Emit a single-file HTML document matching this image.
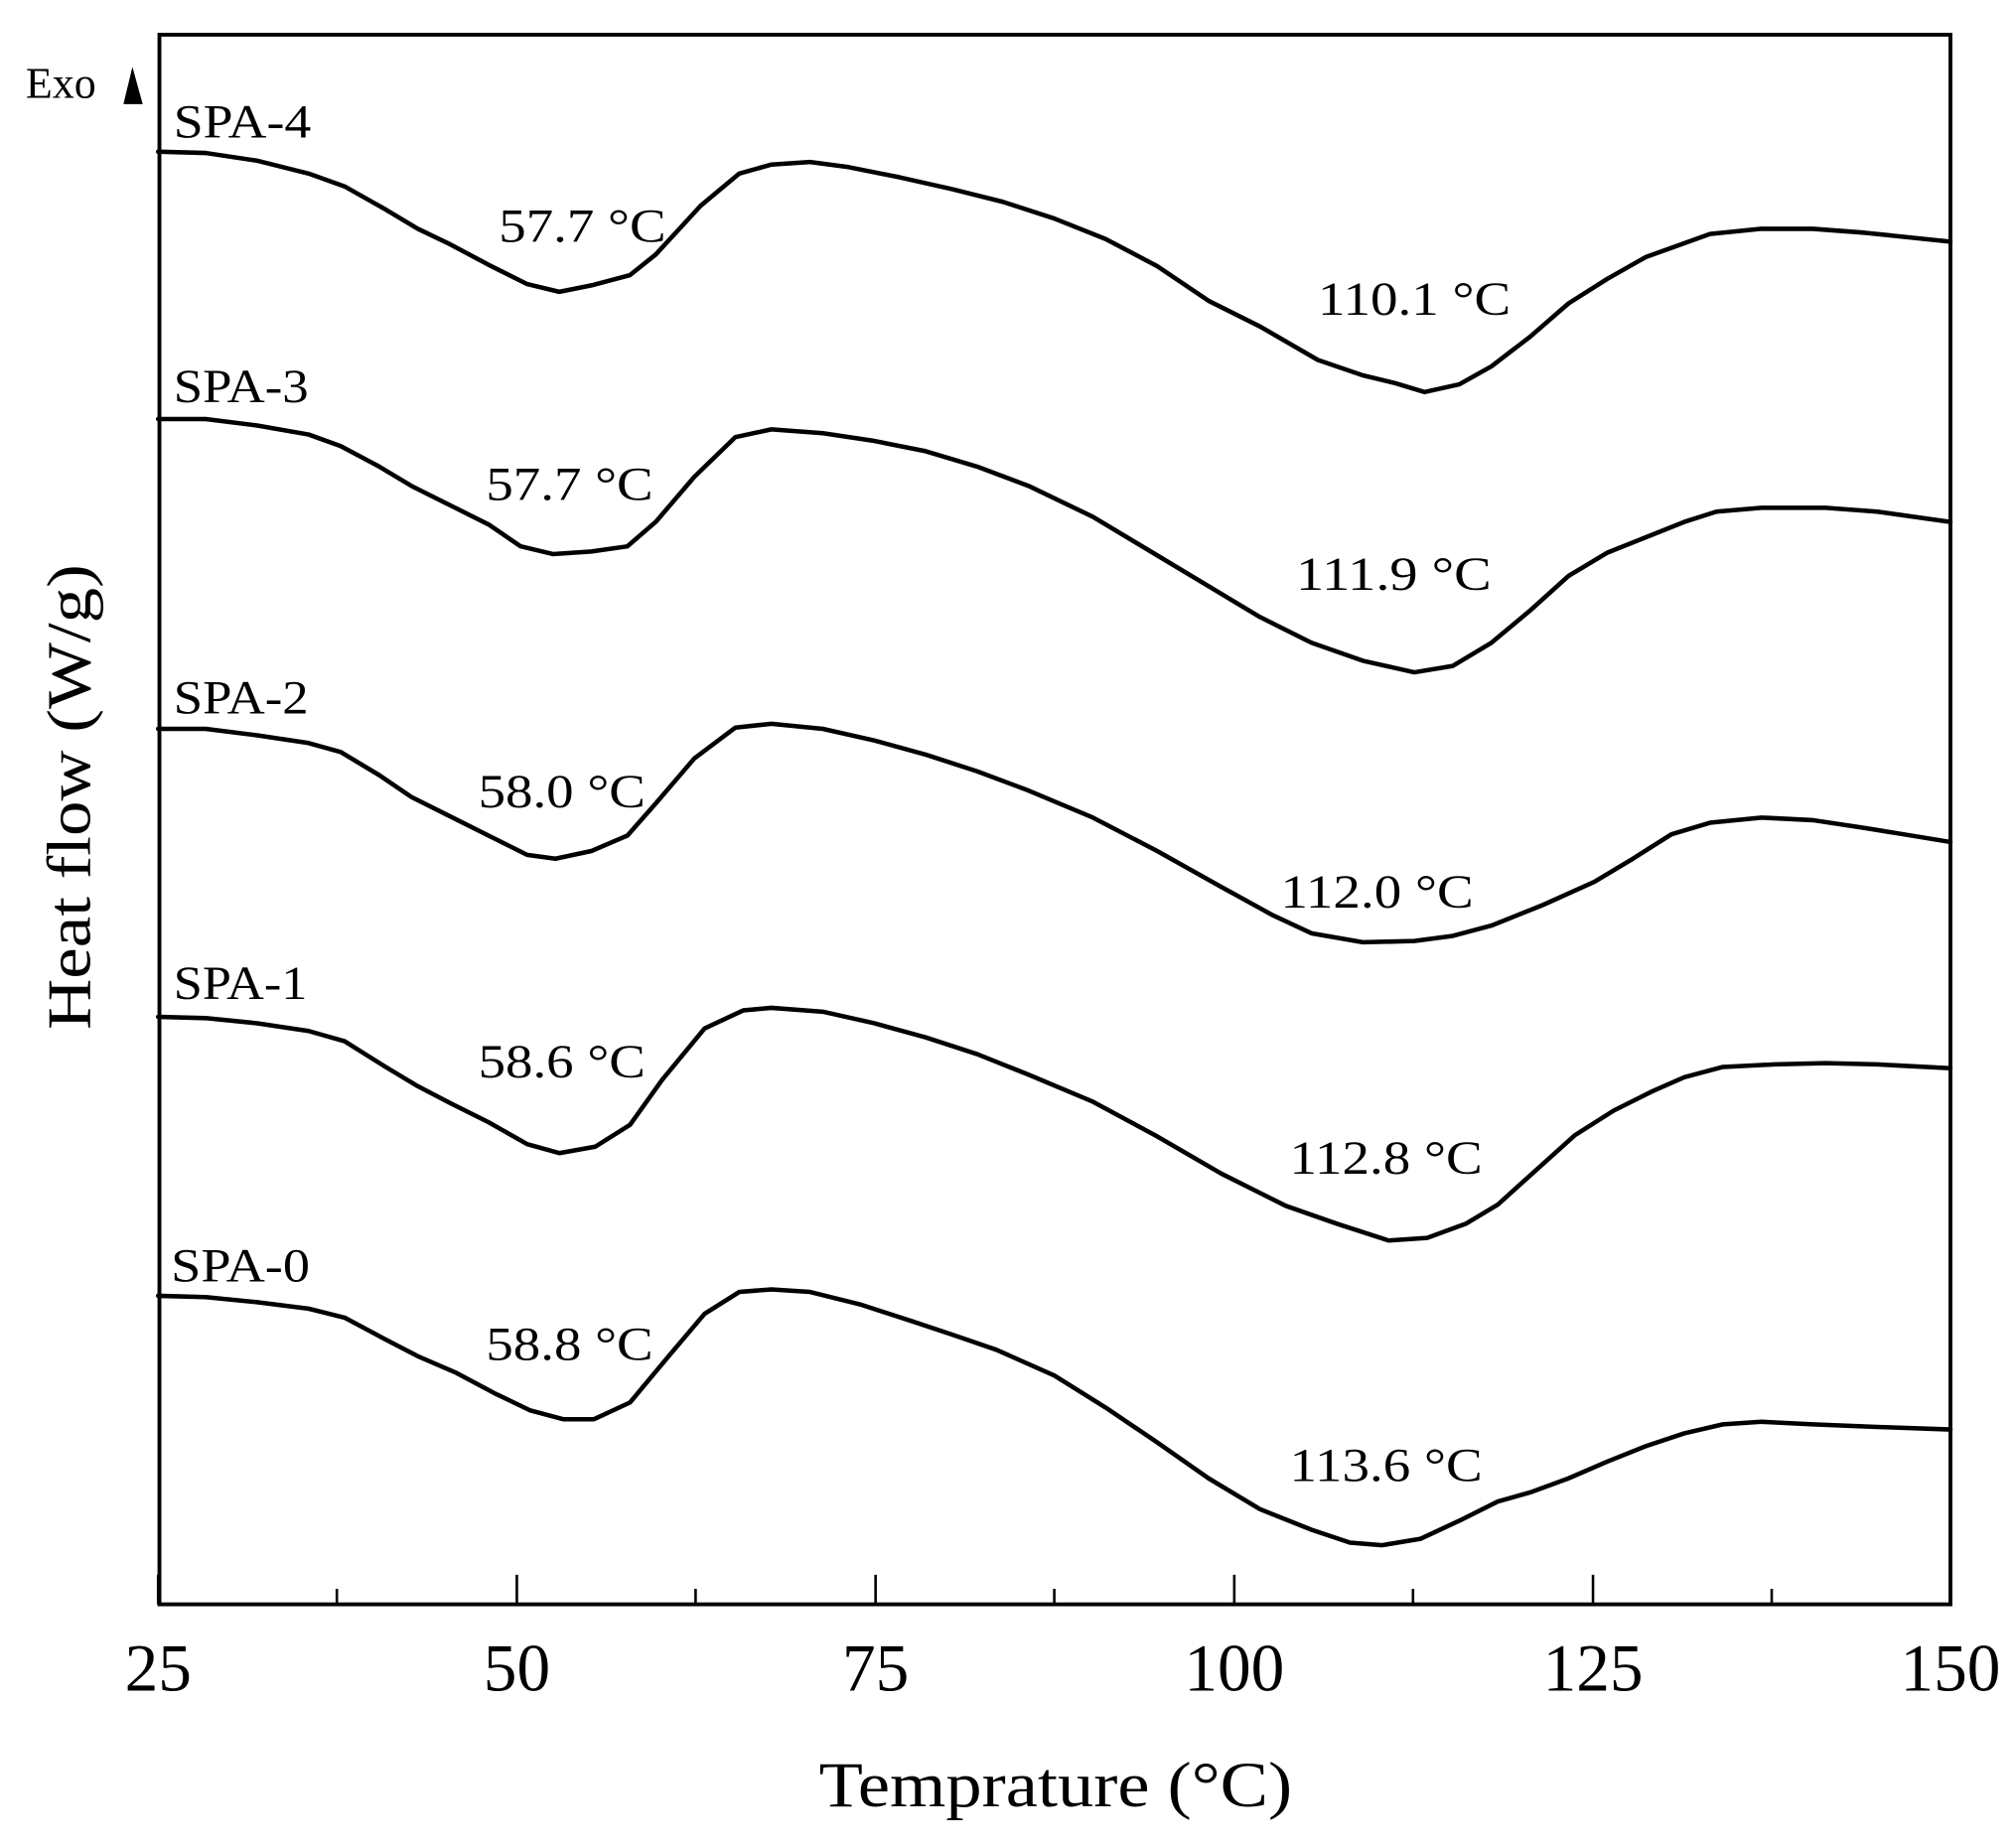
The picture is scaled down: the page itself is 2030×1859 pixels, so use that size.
<!DOCTYPE html>
<html><head><meta charset="utf-8"><style>html,body{margin:0;padding:0;background:#fff}svg{display:block;font-family:"Liberation Serif","Times New Roman",serif}</style></head>
<body>
<svg width="2030" height="1859" viewBox="0 0 1568 1436" preserveAspectRatio="none" xmlns="http://www.w3.org/2000/svg" font-family="'Liberation Serif', serif" fill="#000">
<rect x="0" y="0" width="1568" height="1436" fill="#fff"/>
<rect x="124" y="27" width="1393" height="1221" fill="none" stroke="#000" stroke-width="3"/>
<g stroke="#000" stroke-width="2">
<line x1="123" y1="1248" x2="123" y2="1225"/><line x1="402" y1="1248" x2="402" y2="1225"/><line x1="681" y1="1248" x2="681" y2="1225"/><line x1="960" y1="1248" x2="960" y2="1225"/><line x1="1239" y1="1248" x2="1239" y2="1225"/>
<line x1="262" y1="1248" x2="262" y2="1236"/><line x1="541" y1="1248" x2="541" y2="1236"/><line x1="820" y1="1248" x2="820" y2="1236"/><line x1="1099" y1="1248" x2="1099" y2="1236"/><line x1="1378" y1="1248" x2="1378" y2="1236"/>
</g>
<g font-size="52" text-anchor="middle">
<text x="123" y="1315">25</text><text x="402" y="1315">50</text><text x="681" y="1315">75</text><text x="960" y="1315">100</text><text x="1239" y="1315">125</text><text x="1517" y="1315">150</text>
</g>
<text x="821" y="1405" font-size="50" text-anchor="middle" textLength="368" lengthAdjust="spacingAndGlyphs">Temprature (°C)</text>
<text transform="translate(70,620) rotate(-90)" font-size="48" text-anchor="middle" textLength="362" lengthAdjust="spacingAndGlyphs">Heat flow (W/g)</text>
<text x="20" y="76" font-size="34">Exo</text>
<polygon points="103,52 96,81 111,81" fill="#000"/>
<g fill="none" stroke="#000" stroke-width="3.5" stroke-linejoin="round" stroke-linecap="round">
<polyline points="123,118 160,119 200,125 240,135 268,145 300,163 325,178 350,190 380,206 410,221 435,227 460,222 490,214 510,198 545,160 575,135 600,128 630,126 660,130 700,138 740,147 780,157 820,170 860,186 900,207 940,234 980,254 1025,280 1060,292 1085,298 1108,305 1135,299 1160,285 1190,262 1220,236 1250,217 1280,200 1330,182 1370,178 1410,178 1450,181 1517,188"/>
<polyline points="123,326 160,326 200,331 240,338 265,347 295,363 320,378 350,393 380,408 405,425 430,431 460,429 488,425 510,406 540,371 572,340 600,334 640,337 680,343 720,351 760,363 800,378 850,402 900,432 940,456 980,480 1020,500 1060,514 1100,523 1130,518 1160,500 1190,475 1220,448 1250,430 1280,418 1310,406 1335,398 1370,395 1420,395 1460,398 1517,406"/>
<polyline points="123,567 160,567 200,572 240,578 265,585 295,603 320,620 350,635 380,650 410,665 432,668 460,662 488,650 510,625 540,590 572,566 600,563 640,567 680,576 720,587 760,600 800,615 850,636 900,662 950,690 990,712 1020,726 1060,733 1100,732 1130,728 1160,720 1200,704 1240,686 1270,668 1300,649 1330,640 1370,636 1410,638 1450,644 1517,655"/>
<polyline points="123,791 160,792 200,796 240,802 268,810 300,830 325,845 350,858 380,873 410,890 435,897 463,892 490,875 515,840 548,800 578,786 600,784 640,787 680,796 720,807 760,820 800,836 850,857 900,884 950,913 1000,938 1040,952 1080,965 1110,963 1140,952 1165,937 1195,910 1225,883 1255,864 1285,849 1310,838 1340,830 1380,828 1420,827 1460,828 1517,831"/>
<polyline points="123,1008 160,1009 200,1013 240,1018 268,1025 300,1042 325,1055 355,1068 385,1084 412,1097 438,1104 462,1104 490,1091 520,1055 548,1022 575,1005 600,1003 630,1005 670,1015 710,1028 740,1038 775,1050 820,1070 860,1095 900,1122 940,1150 980,1174 1020,1190 1050,1200 1075,1202 1105,1197 1135,1183 1165,1168 1190,1161 1220,1150 1250,1137 1280,1125 1310,1115 1340,1108 1370,1106 1410,1108 1460,1110 1517,1112"/>
</g>
<g font-size="37">
<text x="135" y="107" textLength="107" lengthAdjust="spacingAndGlyphs">SPA-4</text>
<text x="388" y="188" textLength="130" lengthAdjust="spacingAndGlyphs">57.7 °C</text>
<text x="1025" y="245" textLength="150" lengthAdjust="spacingAndGlyphs">110.1 °C</text>
<text x="135" y="313" textLength="105" lengthAdjust="spacingAndGlyphs">SPA-3</text>
<text x="378" y="389" textLength="130" lengthAdjust="spacingAndGlyphs">57.7 °C</text>
<text x="1008" y="459" textLength="152" lengthAdjust="spacingAndGlyphs">111.9 °C</text>
<text x="135" y="555" textLength="105" lengthAdjust="spacingAndGlyphs">SPA-2</text>
<text x="372" y="628" textLength="130" lengthAdjust="spacingAndGlyphs">58.0 °C</text>
<text x="996" y="706" textLength="150" lengthAdjust="spacingAndGlyphs">112.0 °C</text>
<text x="135" y="777" textLength="104" lengthAdjust="spacingAndGlyphs">SPA-1</text>
<text x="372" y="838" textLength="130" lengthAdjust="spacingAndGlyphs">58.6 °C</text>
<text x="1003" y="913" textLength="150" lengthAdjust="spacingAndGlyphs">112.8 °C</text>
<text x="133" y="997" textLength="108" lengthAdjust="spacingAndGlyphs">SPA-0</text>
<text x="378" y="1058" textLength="130" lengthAdjust="spacingAndGlyphs">58.8 °C</text>
<text x="1003" y="1152" textLength="150" lengthAdjust="spacingAndGlyphs">113.6 °C</text>
</g>
</svg>
</body></html>
